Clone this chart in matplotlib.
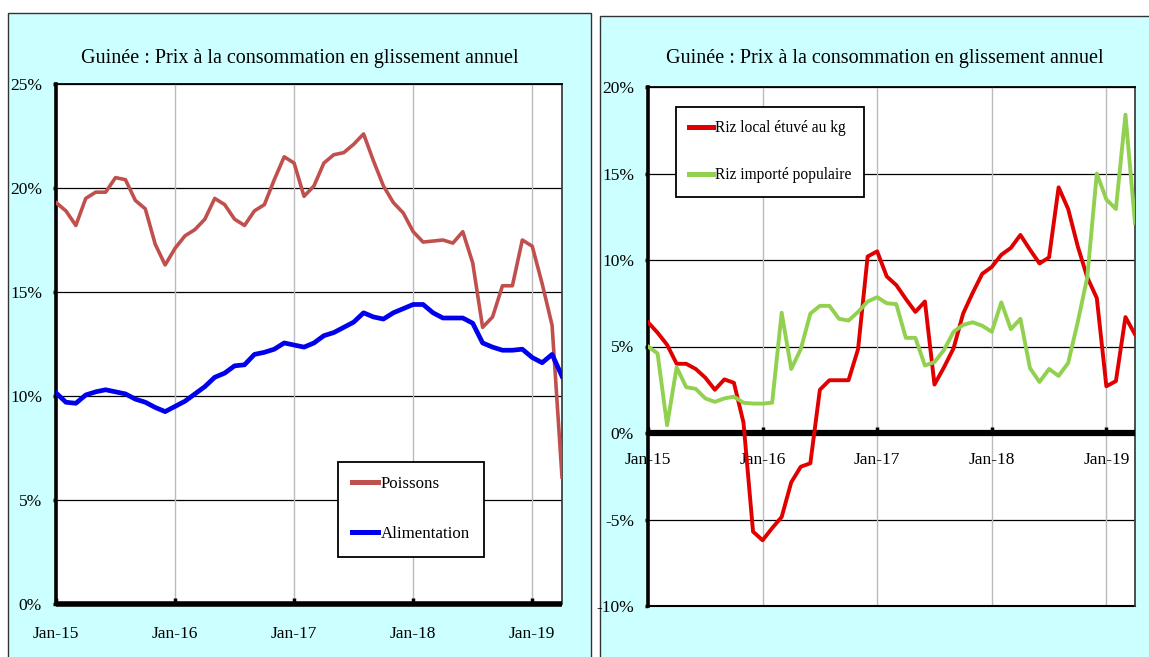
import numpy as np
import matplotlib
matplotlib.use("Agg")
import matplotlib.pyplot as plt
from matplotlib.patches import Rectangle

# monthly values, Jan-15 .. Apr-19 (year-on-year, %)
poissons = [19.3, 18.9, 18.2, 19.5, 19.8, 19.8, 20.5, 20.4, 19.4, 19.0, 17.3, 16.3,
            17.1, 17.7, 18.0, 18.5, 19.5, 19.2, 18.5, 18.2, 18.9, 19.2, 20.4, 21.5,
            21.2, 19.6, 20.1, 21.2, 21.6, 21.7, 22.1, 22.6, 21.3, 20.1, 19.3, 18.8,
            17.9, 17.4, 17.45, 17.5, 17.35, 17.9, 16.4, 13.3, 13.8, 15.3, 15.3, 17.5,
            17.2, 15.4, 13.4, 6.1]
alimentation = [10.15, 9.7, 9.65, 10.05, 10.2, 10.3, 10.2, 10.1, 9.85, 9.7, 9.45, 9.25,
                9.5, 9.75, 10.1, 10.45, 10.9, 11.1, 11.45, 11.5, 12.0, 12.1, 12.25, 12.55,
                12.45, 12.35, 12.55, 12.9, 13.05, 13.3, 13.55, 14.0, 13.8, 13.7, 14.0, 14.2,
                14.4, 14.4, 14.0, 13.75, 13.75, 13.75, 13.5, 12.55, 12.35, 12.2, 12.2, 12.25,
                11.85, 11.6, 12.0, 10.95]
riz_local = [6.4, 5.8, 5.1, 4.0, 4.0, 3.7, 3.2, 2.5, 3.1, 2.9, 0.6, -5.7,
             -6.2, -5.5, -4.85, -2.85, -1.95, -1.75, 2.5, 3.05, 3.05, 3.05, 4.85, 10.2,
             10.5, 9.05, 8.55, 7.75, 7.0, 7.6, 2.8, 3.8, 4.9, 6.9, 8.1, 9.2,
             9.6, 10.3, 10.7, 11.45, 10.6, 9.8, 10.15, 14.2, 12.95, 10.8, 9.0, 7.8,
             2.7, 3.0, 6.7, 5.7]
riz_importe = [5.0, 4.6, 0.45, 3.8, 2.65, 2.55, 2.0, 1.8, 2.0, 2.1, 1.75, 1.7,
               1.7, 1.75, 6.95, 3.7, 4.85, 6.9, 7.35, 7.35, 6.6, 6.5, 7.0, 7.6,
               7.85, 7.5, 7.45, 5.5, 5.5, 3.9, 4.1, 4.8, 5.85, 6.25, 6.4, 6.2,
               5.85, 7.55, 6.0, 6.6, 3.75, 2.95, 3.7, 3.3, 4.05, 6.4, 9.0, 15.0,
               13.5, 12.95, 18.4, 12.15]
tick_pos = [0, 12, 24, 36, 48]
tick_labels = ["Jan-15", "Jan-16", "Jan-17", "Jan-18", "Jan-19"]
title = "Guinée : Prix à la consommation en glissement annuel"

plt.rcParams['font.family'] = ['Liberation Serif', 'DejaVu Serif']

W, H = 1149, 657
fig = plt.figure(figsize=(W / 100, H / 100), dpi=100)
fig.patch.set_facecolor('white')

# cyan panels behind each chart
fig.patches.append(Rectangle((8 / W, -0.05), (591 - 8) / W, 1.05 - 13 / H,
                             transform=fig.transFigure, facecolor='#CCFFFF',
                             edgecolor='#333333', lw=1, zorder=-5))
fig.patches.append(Rectangle((600 / W, -0.05), 0.5, 1.05 - 16 / H,
                             transform=fig.transFigure, facecolor='#CCFFFF',
                             edgecolor='#333333', lw=1, zorder=-5))

fig.text(300 / W, 1 - 58 / H, title, ha='center', va='center', fontsize=14.5)
fig.text(885 / W, 1 - 59 / H, title, ha='center', va='center', fontsize=14.5)


def style(ax, ymin, ymax, xpad):
    ax.set_facecolor('white')
    ax.set_xlim(0, len(poissons) - 1)
    ax.set_ylim(ymin, ymax)
    yt = np.arange(ymin, ymax + 1, 5)
    ax.set_yticks(yt)
    ax.set_yticklabels([f"{v}%" for v in yt], fontsize=12.5)
    ax.set_xticks(tick_pos)
    ax.set_xticklabels(tick_labels, fontsize=12.5)
    for v in yt:
        ax.axhline(v, color='black', lw=0.9, zorder=1)
    for t in tick_pos[1:]:
        ax.axvline(t, color='#BBBBBB', lw=1, zorder=1)
    ax.spines['left'].set_linewidth(2.6)
    ax.spines['top'].set_linewidth(1.3)
    ax.spines['right'].set_linewidth(1.3)
    ax.spines['right'].set_color('#404040')
    ax.tick_params(axis='y', direction='out', length=2, width=2.5, pad=8)
    ax.tick_params(axis='x', direction='in', length=4, width=2.5, pad=xpad)


def add_legend(ax, x0, y0, size):
    leg = ax.legend(loc='upper left', bbox_to_anchor=(x0 / W, 1 - y0 / H),
                    bbox_transform=fig.transFigure, fontsize=size, frameon=True,
                    fancybox=False, edgecolor='black', framealpha=1, handlelength=1.5,
                    handletextpad=0.15, labelspacing=2.0, borderpad=0.85, borderaxespad=0)
    leg.get_frame().set_linewidth(1.3)
    for ln in leg.get_lines():
        ln.set_linewidth(3.6)
    return leg


x = np.arange(len(poissons))

ax1 = fig.add_axes([56 / W, 1 - 604 / H, 506 / W, 520 / H])
style(ax1, 0, 25, 16)
ax1.spines['bottom'].set_linewidth(4)
ax1.spines['bottom'].set_capstyle('butt')
ax1.plot(x, poissons, color='#C0504D', lw=2.6, label='Poissons', zorder=3)
ax1.plot(x, alimentation, color='#0000EE', lw=3.4, label='Alimentation', zorder=3)
add_legend(ax1, 338, 462, 12.2)

ax2 = fig.add_axes([648 / W, 1 - 606 / H, 487 / W, 519 / H])
ax2.spines['bottom'].set_position(('data', 0))
style(ax2, -10, 20, 14)
ax2.spines['bottom'].set_linewidth(4.5)
ax2.spines['bottom'].set_capstyle('butt')
ax2.axhline(-10, color='black', lw=1.5, clip_on=False, zorder=1)
ax2.plot(x, riz_local, color='#E00000', lw=2.8, label='Riz local étuvé au kg', zorder=3)
ax2.plot(x, riz_importe, color='#92D050', lw=2.8, label='Riz importé populaire', zorder=3)
add_legend(ax2, 676, 107, 11.2)

fig.savefig('out.png', dpi=100)
